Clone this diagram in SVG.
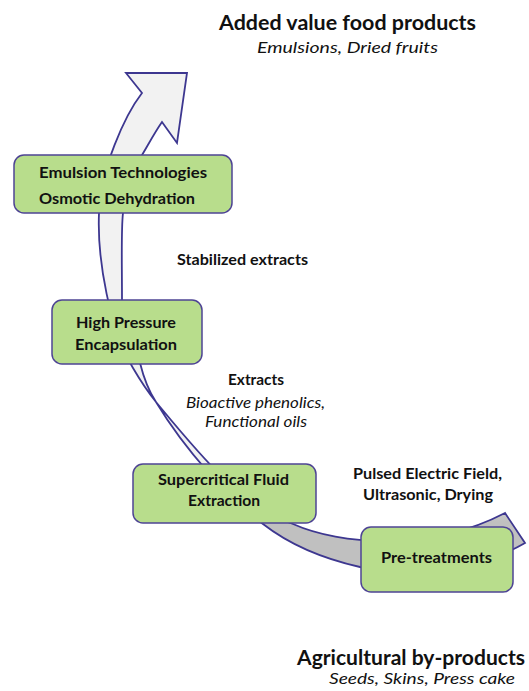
<svg xmlns="http://www.w3.org/2000/svg" width="529" height="691" viewBox="0 0 529 691">
<defs>
<linearGradient id="arrowGrad" gradientUnits="userSpaceOnUse" x1="0" y1="470" x2="0" y2="522">
<stop offset="0" stop-color="#f2f2f2"/>
<stop offset="1" stop-color="#c0c0c0"/>
</linearGradient>
<style>
.box{fill:#b8dd8c;stroke:#4e4494;stroke-width:1.5}
.b{font-family:Lato,"Open Sans","Liberation Sans",sans-serif;font-weight:bold;font-size:15px;fill:#111}
.i{font-family:Lato,"Open Sans","Liberation Sans",sans-serif;font-style:italic;font-size:15px;fill:#111}
.big{font-size:20px}
.mid{font-size:16px}
</style>
</defs>
<rect width="529" height="691" fill="#ffffff"/>
<g id="connectors">
<path id="curved-arrow" fill="url(#arrowGrad)" stroke="#3d3790" stroke-width="1.8" stroke-linejoin="miter"
 d="M187,73 L126,73 L142,93 C125,115 100,170 99,213 C97,260 110,330 133,368 C140,380 148,392 156,402 C200,455 240,505 293,524 C340,545 430,552 505,513 L525,543 C470,575 400,575 360,567 C320,558 290,545 263,524 C230,500 185,450 156,402 C148,390 143,375 140,363 C128,340 120,320 122,300 C122,260 121,230 123,213 C126,185 135,165 142,155 C148,145 155,132 162,122 L177,143 Z"/>
</g>
<g id="node-emulsion">
<rect class="box" x="14" y="155" width="218" height="58" rx="10"/>
<text class="b" x="39" y="178" textLength="168" lengthAdjust="spacingAndGlyphs">Emulsion Technologies</text>
<text class="b" x="39" y="204" textLength="156" lengthAdjust="spacingAndGlyphs">Osmotic Dehydration</text>
</g>
<g id="node-hpe">
<rect class="box" x="52" y="300" width="150" height="64" rx="10"/>
<text class="b" x="76" y="328" textLength="100" lengthAdjust="spacingAndGlyphs">High Pressure</text>
<text class="b" x="75" y="350" textLength="102" lengthAdjust="spacingAndGlyphs">Encapsulation</text>
</g>
<g id="node-sfe">
<rect class="box" x="133" y="464" width="183" height="59" rx="10"/>
<text class="b" x="158" y="485" textLength="131" lengthAdjust="spacingAndGlyphs">Supercritical Fluid</text>
<text class="b" x="188" y="506" textLength="72" lengthAdjust="spacingAndGlyphs">Extraction</text>
</g>
<g id="node-pretreat">
<rect class="box" x="361" y="527" width="152" height="65" rx="10"/>
<text class="b" x="381" y="563" textLength="111" lengthAdjust="spacingAndGlyphs">Pre-treatments</text>
</g>
<g id="labels">
<text class="b big" x="219" y="30" textLength="257" lengthAdjust="spacingAndGlyphs">Added value food products</text>
<text class="i mid" x="257" y="53" textLength="181" lengthAdjust="spacingAndGlyphs">Emulsions, Dried fruits</text>
<text class="b" x="177" y="265" textLength="131" lengthAdjust="spacingAndGlyphs">Stabilized extracts</text>
<text class="b" x="228" y="385" textLength="56" lengthAdjust="spacingAndGlyphs">Extracts</text>
<text class="i" x="186" y="408" textLength="139" lengthAdjust="spacingAndGlyphs">Bioactive phenolics,</text>
<text class="i" x="205" y="427" textLength="102" lengthAdjust="spacingAndGlyphs">Functional oils</text>
<text class="b" x="353" y="479" textLength="149" lengthAdjust="spacingAndGlyphs">Pulsed Electric Field,</text>
<text class="b" x="363" y="500" textLength="130" lengthAdjust="spacingAndGlyphs">Ultrasonic, Drying</text>
<text class="b big" x="297" y="665" textLength="228" lengthAdjust="spacingAndGlyphs">Agricultural by-products</text>
<text class="i mid" x="329" y="684" textLength="186" lengthAdjust="spacingAndGlyphs">Seeds, Skins, Press cake</text>
</g>
</svg>
